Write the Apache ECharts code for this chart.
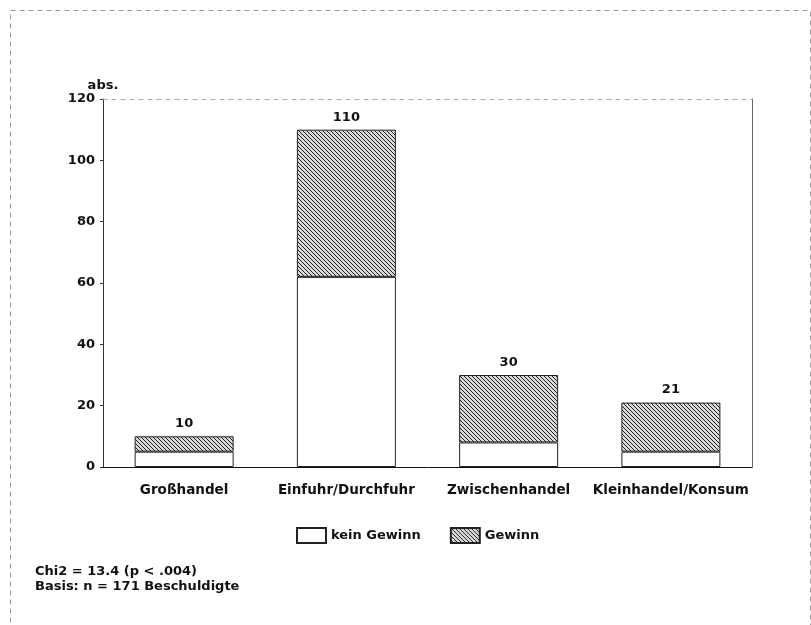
<!DOCTYPE html>
<html><head><meta charset="utf-8">
<script src="https://cdn.jsdelivr.net/npm/echarts@6/dist/echarts.min.js"></script>
<style>html,body{margin:0;padding:0;background:#fff}#c{width:811px;height:625px}</style>
</head><body><div id="c"></div>
<script>
const categories = ['Großhandel', 'Einfuhr/Durchfuhr', 'Zwischenhandel', 'Kleinhandel/Konsum'];
const keinGewinn = [5, 62, 8, 5];
const gewinn = [5, 48, 22, 16];
const totals = [10, 110, 30, 21];
const yTicks = [0, 20, 40, 60, 80, 100, 120];

const FONT = 'DejaVu Sans';
const pc = document.createElement('canvas');
pc.width = 4; pc.height = 4;
const g = pc.getContext('2d');
g.fillStyle = '#d8d8d8'; g.fillRect(0, 0, 4, 4);
g.strokeStyle = '#222'; g.lineWidth = 1;
g.beginPath();
g.moveTo(-1, -1); g.lineTo(5, 5);
g.moveTo(-1, 3); g.lineTo(1, 5);
g.moveTo(3, -1); g.lineTo(5, 1);
g.stroke();
const hatch = { image: pc, repeat: 'repeat' };

const chart = echarts.init(document.getElementById('c'), null, { renderer: 'canvas' });
chart.setOption({
  animation: false,
  textStyle: { fontFamily: FONT },
  grid: { left: 103, right: 59, top: 99, bottom: 158, containLabel: false },
  graphic: [{
    type: 'rect', left: 8, top: 8, silent: true,
    shape: { width: 800, height: 640 },
    style: { fill: 'none', stroke: '#999', lineWidth: 1, lineDash: [5, 4] }
  }, {
    type: 'text', left: 35, top: 564,
    style: { text: 'Chi2 = 13.4 (p < .004)\nBasis: n = 171 Beschuldigte', font: 'bold 13px "DejaVu Sans"', fill: '#111', lineHeight: 15 }
  }],
  legend: {
    data: ['kein Gewinn', 'Gewinn'], icon: 'rect', padding: 0,
    left: 296, top: 527, itemWidth: 29, itemHeight: 15, itemGap: 29,
    textStyle: { fontFamily: FONT, fontWeight: 'bold', fontSize: 13, color: '#111' }
  },
  xAxis: [{
    type: 'category', data: categories, position: 'bottom',
    axisLine: { onZero: false, lineStyle: { color: '#111', width: 1 } },
    axisTick: { show: false },
    axisLabel: { interval: 0, color: '#111', fontWeight: 'bold', fontSize: 13.5, margin: 16, fontFamily: FONT }
  }, {
    type: 'category', data: categories, position: 'top',
    axisLine: { onZero: false, lineStyle: { color: '#aaa', type: [4, 5] } },
    axisTick: { show: false }, axisLabel: { show: false }
  }],
  yAxis: [{
    type: 'value', min: 0, max: 120, interval: 20,
    name: 'abs.', nameLocation: 'end', nameGap: 6,
    nameTextStyle: { color: '#111', fontWeight: 'bold', fontSize: 13, align: 'center' },
    axisLine: { show: true, onZero: false, lineStyle: { color: '#333' } },
    axisTick: { show: true, length: 3, lineStyle: { color: '#333' } },
    axisLabel: { color: '#111', fontWeight: 'bold', fontSize: 13, margin: 8, fontFamily: FONT,
      formatter: v => yTicks.includes(v) ? String(v) : '' },
    splitLine: { show: false }
  }, {
    type: 'value', min: 0, max: 120, interval: 20, position: 'right',
    axisLine: { show: true, onZero: false, lineStyle: { color: '#666' } },
    axisTick: { show: false }, axisLabel: { show: false }, splitLine: { show: false }
  }],
  series: [{
    name: 'kein Gewinn', type: 'bar', stack: 's', data: keinGewinn, barWidth: 99,
    itemStyle: { color: '#fff', borderColor: '#222', borderWidth: 1 }
  }, {
    name: 'Gewinn', type: 'bar', stack: 's', data: gewinn, barWidth: 99,
    itemStyle: { color: hatch, borderColor: '#222', borderWidth: 1 },
    label: { show: true, position: 'top', distance: 6, color: '#111', fontWeight: 'bold', fontSize: 13,
      fontFamily: FONT, formatter: p => String(totals[p.dataIndex]) }
  }]
});
</script></body></html>
